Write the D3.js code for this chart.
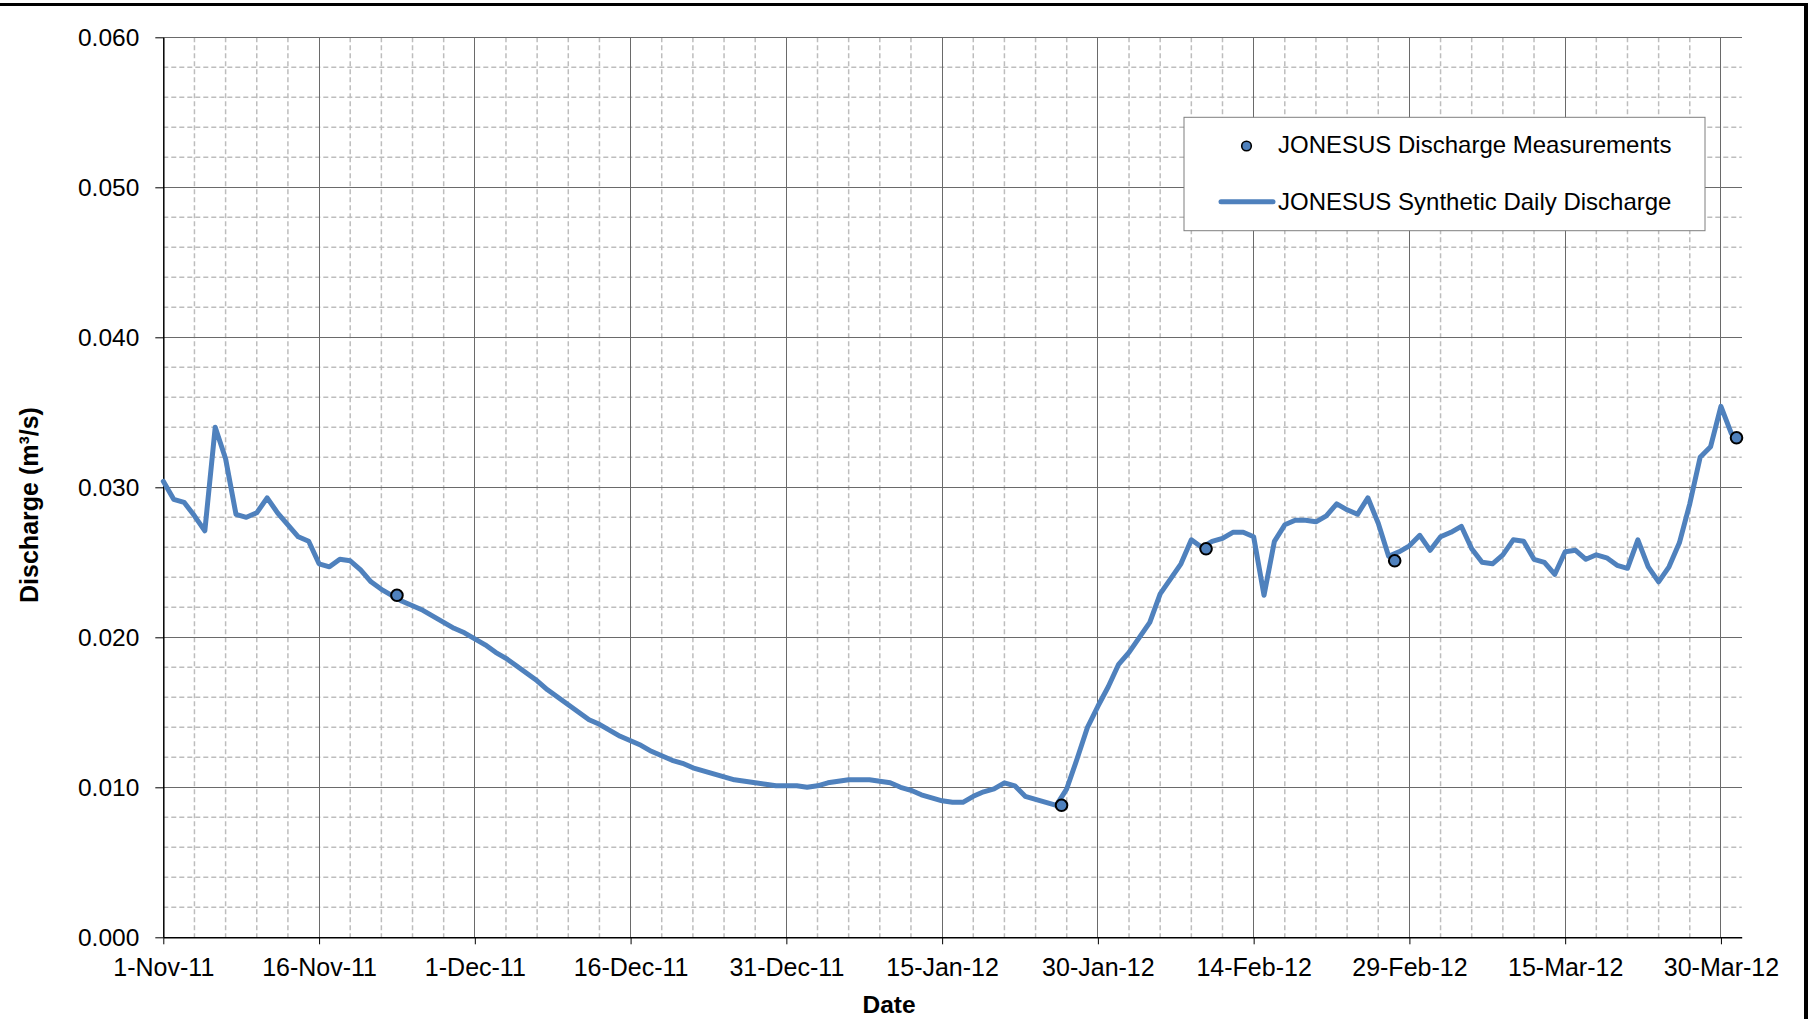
<!DOCTYPE html>
<html>
<head>
<meta charset="utf-8">
<script src="https://cdn.jsdelivr.net/npm/d3@7"></script>
<style>
  body { margin: 0; background: #fff; }
  svg text { font-family: Arial, 'Liberation Sans', sans-serif; fill: #000; }
</style>
</head>
<body>
<svg id="grafico"></svg>
<script>
// daily series starts here, one value per day
const inicioSerie = '2011-11-01';
const dominioX = ['2011-11-01', '2012-04-01'];

const vazaoDiaria = [
    0.0304, 0.0292, 0.0290, 0.0281, 0.0271, 0.0340, 0.0319, 0.0282, 0.0280, 0.0283,
    0.0293, 0.0283, 0.0275, 0.0267, 0.0264, 0.0249, 0.0247, 0.0252, 0.0251, 0.0245,
    0.0237, 0.0232, 0.0228, 0.0224, 0.0221, 0.0218, 0.0214, 0.0210, 0.0206, 0.0203,
    0.0199, 0.0195, 0.0190, 0.0186, 0.0181, 0.0176, 0.0171, 0.0165, 0.0160, 0.0155,
    0.0150, 0.0145, 0.0142, 0.0138, 0.0134, 0.0131, 0.0128, 0.0124, 0.0121, 0.0118,
    0.0116, 0.0113, 0.0111, 0.0109, 0.0107, 0.0105, 0.0104, 0.0103, 0.0102, 0.0101,
    0.0101, 0.0101, 0.0100, 0.0101, 0.0103, 0.0104, 0.0105, 0.0105, 0.0105, 0.0104,
    0.0103, 0.0100, 0.0098, 0.0095, 0.0093, 0.0091, 0.0090, 0.0090, 0.0094, 0.0097,
    0.0099, 0.0103, 0.0101, 0.0094, 0.0092, 0.0090, 0.0088, 0.0099, 0.0119, 0.0140,
    0.0154, 0.0167, 0.0182, 0.0190, 0.0200, 0.0210, 0.0229, 0.0239, 0.0249, 0.0265,
    0.0260, 0.0264, 0.0266, 0.0270, 0.0270, 0.0267, 0.0228, 0.0264, 0.0275, 0.0278,
    0.0278, 0.0277, 0.0281, 0.0289, 0.0285, 0.0282, 0.0293, 0.0276, 0.0254, 0.0257,
    0.0261, 0.0268, 0.0258, 0.0267, 0.0270, 0.0274, 0.0259, 0.0250, 0.0249, 0.0255,
    0.0265, 0.0264, 0.0252, 0.0250, 0.0242, 0.0257, 0.0258, 0.0252, 0.0255, 0.0253,
    0.0248, 0.0246, 0.0265, 0.0247, 0.0237, 0.0247, 0.0263, 0.0289, 0.0320, 0.0327,
    0.0354, 0.0336
];

const medicaoDatas = ['2011-11-23 12:00', '2012-01-26 12:00', '2012-02-09 10:00', '2012-02-27 14:00', '2012-03-31 12:00'];
const medicaoValores = [0.0228, 0.0088, 0.0259, 0.0251, 0.0333];

const rotulosX = ['2011-11-01', '2011-11-16', '2011-12-01', '2011-12-16', '2011-12-31', '2012-01-15',
    '2012-01-30', '2012-02-14', '2012-02-29', '2012-03-15', '2012-03-30'];
const ticksY = [0, 0.01, 0.02, 0.03, 0.04, 0.05, 0.06];

const legendaTextos = ['JONESUS Discharge Measurements', 'JONESUS Synthetic Daily Discharge'];

const largura = 1808;
const altura = 1019;

let svg = d3
    .select('#grafico')
    .attr('width', largura)
    .attr('height', altura);

var margem = {
    esquerda: 163.3,
    direita: 66.3,
    superior: 37.3,
    inferior: 81.7
};

const larguraPlotagem = largura - margem.esquerda - margem.direita;
const alturaPlotagem = altura - margem.superior - margem.inferior;

const lerDia = d3.utcParse('%Y-%m-%d');
const lerHora = d3.utcParse('%Y-%m-%d %H:%M');

const dados = vazaoDiaria.map((v, i) => ({ data: d3.utcDay.offset(lerDia(inicioSerie), i), valor: v }));
const medicoes = medicaoDatas.map((d, i) => ({ data: lerHora(d), valor: medicaoValores[i] }));

let plotagem = svg
    .append('g')
    .attr('transform', 'translate(' + margem.esquerda + ',' + margem.superior + ')');

let fnX = d3
    .scaleUtc()
    .domain(dominioX.map(lerDia))
    .range([0, larguraPlotagem]);

let fnY = d3
    .scaleLinear()
    .domain([0, 0.06])
    .range([alturaPlotagem, 0]);

// minor grid: every 3 days, every 0.002
const nDias = d3.utcDay.count(fnX.domain()[0], fnX.domain()[1]);
const menorX = d3.range(3, nDias, 3).filter(i => i % 15 !== 0).map(i => d3.utcDay.offset(fnX.domain()[0], i));
const menorY = d3.range(1, 30).filter(i => i % 5 !== 0).map(i => i * 0.002);

let gradeMenor = plotagem.append('g')
    .attr('stroke', '#bdbdbd')
    .attr('stroke-width', 1.5)
    .attr('stroke-dasharray', '5,3');

gradeMenor.selectAll('.vx').data(menorX).join('line')
    .attr('x1', d => fnX(d)).attr('x2', d => fnX(d))
    .attr('y1', 0).attr('y2', alturaPlotagem);

gradeMenor.selectAll('.hy').data(menorY).join('line')
    .attr('x1', 0).attr('x2', larguraPlotagem)
    .attr('y1', d => fnY(d)).attr('y2', d => fnY(d));

let gradeMaior = plotagem.append('g')
    .attr('stroke', '#6a6a6a')
    .attr('stroke-width', 1)
    .attr('shape-rendering', 'crispEdges');

gradeMaior.selectAll('.vx').data(rotulosX.slice(1).map(lerDia)).join('line')
    .attr('x1', d => fnX(d)).attr('x2', d => fnX(d))
    .attr('y1', 0).attr('y2', alturaPlotagem);

gradeMaior.selectAll('.hy').data(ticksY.slice(1)).join('line')
    .attr('x1', 0).attr('x2', larguraPlotagem)
    .attr('y1', d => fnY(d)).attr('y2', d => fnY(d));

// axes
let eixoY = d3.axisLeft(fnY)
    .tickValues(ticksY)
    .tickFormat(d3.format('.3f'))
    .tickSize(8)
    .tickSizeOuter(0)
    .tickPadding(16);

let gY = plotagem.append('g').call(eixoY)
    .attr('font-family', null)
    .attr('font-size', null);
gY.selectAll('text').style('font-size', '24.5px');
gY.selectAll('line').attr('stroke', '#000');
gY.select('.domain').attr('stroke', '#000').attr('stroke-width', 1.5);

let eixoX = d3.axisBottom(fnX)
    .tickValues(rotulosX.map(lerDia))
    .tickFormat(d3.utcFormat('%-d-%b-%y'))
    .tickSize(7)
    .tickSizeOuter(0)
    .tickPadding(14);

let gX = plotagem.append('g')
    .attr('transform', 'translate(0,' + alturaPlotagem + ')')
    .call(eixoX)
    .attr('font-family', null)
    .attr('font-size', null);
gX.selectAll('text').style('font-size', '25px');
gX.selectAll('line').attr('stroke', '#000');
gX.select('.domain').attr('stroke', '#000').attr('stroke-width', 1.5);

// axis titles
svg.append('text')
    .attr('x', 889)
    .attr('y', 1012.7)
    .style('text-anchor', 'middle')
    .style('font-weight', 'bold')
    .style('font-size', '24.5px')
    .text('Date');

svg.append('text')
    .attr('transform', 'translate(38,505) rotate(-90)')
    .style('text-anchor', 'middle')
    .style('font-weight', 'bold')
    .style('font-size', '25px')
    .text('Discharge (m³/s)');

// series
let linha = d3.line()
    .x(d => fnX(d.data))
    .y(d => fnY(d.valor));

plotagem.append('path')
    .datum(dados)
    .attr('d', linha)
    .attr('fill', 'none')
    .attr('stroke', '#4f81bd')
    .attr('stroke-width', 5)
    .attr('stroke-linejoin', 'round')
    .attr('stroke-linecap', 'round');

plotagem.selectAll('.medicao').data(medicoes).join('circle')
    .classed('medicao', true)
    .attr('cx', d => fnX(d.data))
    .attr('cy', d => fnY(d.valor))
    .attr('r', 5.8)
    .attr('fill', '#4f81bd')
    .attr('stroke', '#000')
    .attr('stroke-width', 2);

// legend
let legenda = svg.append('g');
legenda.append('rect')
    .attr('x', 1184).attr('y', 117.3)
    .attr('width', 521).attr('height', 113.4)
    .attr('fill', '#fff')
    .attr('stroke', '#7f7f7f')
    .attr('stroke-width', 1);

legenda.append('circle')
    .attr('cx', 1246.5).attr('cy', 146)
    .attr('r', 4.8)
    .attr('fill', '#4f81bd')
    .attr('stroke', '#000')
    .attr('stroke-width', 1.6);

legenda.append('line')
    .attr('x1', 1221).attr('x2', 1273)
    .attr('y1', 201.7).attr('y2', 201.7)
    .attr('stroke', '#4f81bd')
    .attr('stroke-width', 5)
    .attr('stroke-linecap', 'round');

legenda.selectAll('.rotulo').data(legendaTextos).join('text')
    .classed('rotulo', true)
    .attr('x', 1278)
    .attr('y', (d, i) => i === 0 ? 153.3 : 210)
    .style('font-size', '24px')
    .text(d => d);

// page frame: top and right edges
svg.append('rect').attr('x', 0).attr('y', 3).attr('width', largura).attr('height', 3).attr('fill', '#000');
svg.append('rect').attr('x', 1804).attr('y', 3).attr('width', 4).attr('height', altura - 3).attr('fill', '#000');
</script>
</body>
</html>
